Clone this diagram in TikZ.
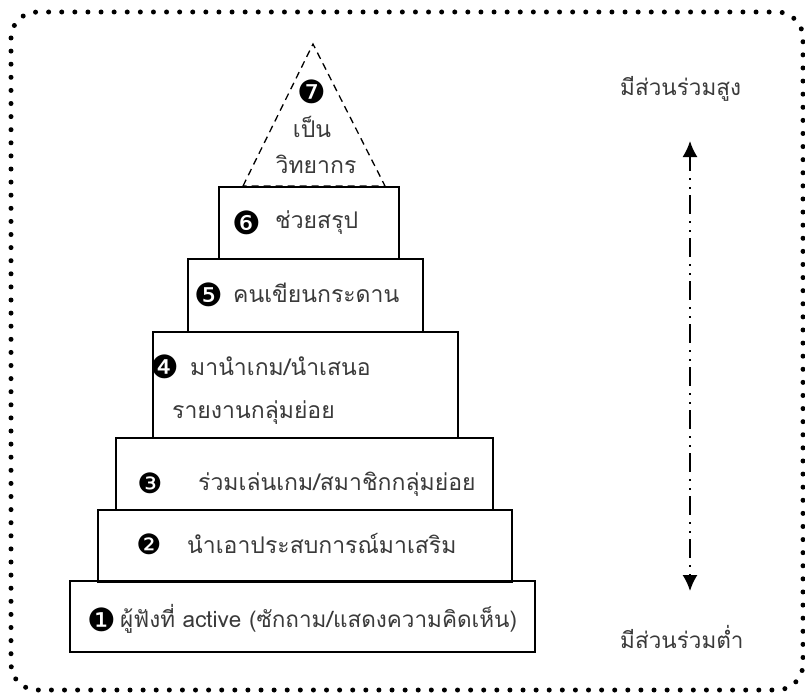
\documentclass[tikz,border=0pt]{standalone}
\usepackage{fontspec}
\usetikzlibrary{arrows.meta}
\newfontfamily\thaifont[Script=Thai]{Loma}
\newfontfamily\dingfont{DejaVu Sans}
\definecolor{inkgray}{HTML}{3A3A3A}
\begin{document}
\begin{tikzpicture}[x=1pt,y=-1pt,
  tier/.style={draw=black,line width=1.4pt},
  peak/.style={draw=black,line width=1.3pt,dash pattern=on 7pt off 5pt},
  ttext/.style={inner sep=0pt,anchor=base west,text=inkgray,font=\thaifont\fontsize{23}{27}\selectfont},
  num/.style={inner sep=0pt,anchor=center,text=black,font=\dingfont\fontsize{32}{34}\selectfont},
  numsmall/.style={num,font=\dingfont\fontsize{28}{30}\selectfont},
  side/.style={inner sep=0pt,anchor=base west,text=inkgray,font=\thaifont\fontsize{22.5}{26}\selectfont},
  scale arrow/.style={line width=1.8pt,dash pattern=on 2pt off 7pt on 2pt off 7pt on 19pt off 6pt,
    {Latex[length=16pt,width=15pt]}-{Latex[length=16pt,width=15pt]}},
]
\useasboundingbox (0,0) rectangle (805,693);

% dotted frame
\draw[line width=5pt,line cap=round,dash pattern=on 0pt off 13.1pt,rounded corners=26pt]
  (11,12) rectangle (803,690);

% tiers, bottom to top
\draw[tier] (70,581) rectangle (535,652);
\draw[tier] (98,510) rectangle (512,582);
\draw[tier] (116,438) rectangle (493,510);
\draw[tier] (153,332) rectangle (458,438);
\draw[tier] (188,259) rectangle (423,332);
\draw[tier] (219,187) rectangle (399,259);
\draw[peak] (243,186) -- (313,44) -- (385,186) -- cycle;

% tier labels
\node[num] (n1) at (102,620) {❶};
\node[ttext,font=\thaifont\fontsize{22.5}{26}\selectfont] (t1) at (120,627) {ผู้ฟังที่ active (ซักถาม/แสดงความคิดเห็น)};
\node[numsmall] (n2) at (149,544) {❷};
\node[ttext] (t2) at (187,553) {นำเอาประสบการณ์มาเสริม};
\node[numsmall] (n3) at (150,483) {❸};
\node[ttext] (t3) at (198,490) {ร่วมเล่นเกม/สมาชิกกลุ่มย่อย};
\node[num] (n4) at (165,367) {❹};
\node[ttext] (t4a) at (190,375) {มานำเกม/นำเสนอ};
\node[ttext] (t4b) at (172,418) {รายงานกลุ่มย่อย};
\node[num] (n5) at (209,295) {❺};
\node[ttext] (t5) at (233,302) {คนเขียนกระดาน};
\node[num] (n6) at (247,223) {❻};
\node[ttext] (t6) at (275,228) {ช่วยสรุป};
\node[num] (n7) at (312,92) {❼};
\node[ttext,anchor=base] (t7a) at (312,137) {เป็น};
\node[ttext,anchor=base] (t7b) at (316,173) {วิทยากร};

% participation scale
\node[side] (hi) at (620,95) {มีส่วนร่วมสูง};
\node[side] (lo) at (620,648) {มีส่วนร่วมต่ำ};
\coordinate (top) at (690,141);
\coordinate (bot) at (690,591);
\draw[scale arrow] (bot) -- (top);
\end{tikzpicture}
\end{document}
